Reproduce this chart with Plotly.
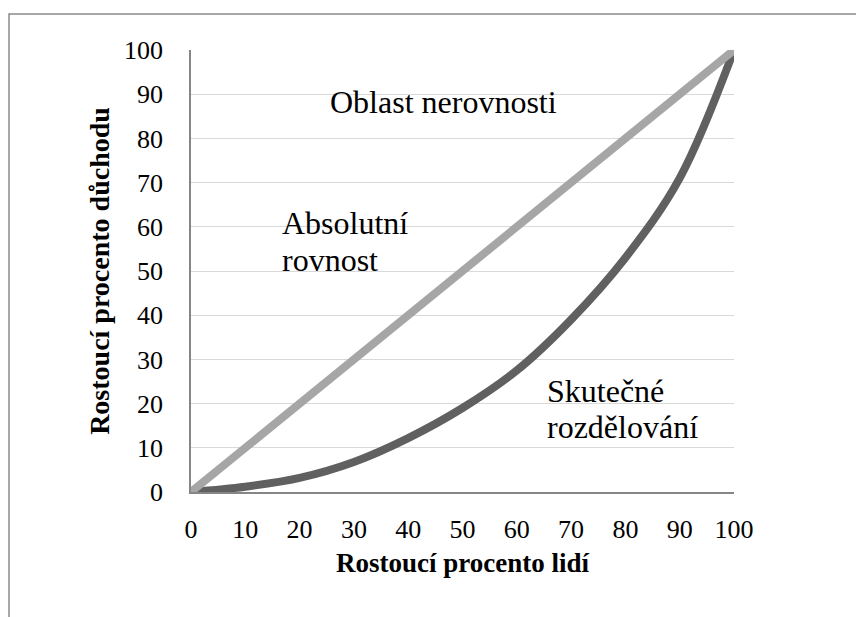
import plotly.graph_objects as go

# data
people_pct = [0, 10, 20, 30, 40, 50, 60, 70, 80, 90, 100]
income_actual = [0, 1.2, 3.2, 6.8, 12.2, 19, 27.5, 39, 53, 71, 100]
equality_x = [0, 100]
equality_y = [0, 100]
tick_vals = [0, 10, 20, 30, 40, 50, 60, 70, 80, 90, 100]
tick_text = [str(v) for v in tick_vals]

x_title = "Rostoucí procento lidí"
y_title = "Rostoucí procento důchodu"

serif = "Liberation Serif, Times New Roman, serif"

fig = go.Figure()
fig.add_trace(go.Scatter(
    x=people_pct, y=income_actual, mode="lines",
    line=dict(color="#606060", width=8, shape="spline", smoothing=1.0),
    cliponaxis=False, showlegend=False, hoverinfo="skip"))
fig.add_trace(go.Scatter(
    x=equality_x, y=equality_y, mode="lines",
    line=dict(color="#a6a6a6", width=8),
    cliponaxis=False, showlegend=False, hoverinfo="skip"))

annots = [
    ("Oblast nerovnosti", 25.2, 88.2),
    ("Absolutní", 16.4, 60.9),
    ("rovnost", 16.4, 52.5),
    ("Skutečné", 65.2, 22.9),
    ("rozdělování", 65.2, 14.7),
]
for txt, ax, ay in annots:
    fig.add_annotation(x=ax, y=ay, text=txt, showarrow=False,
                       xanchor="left", yanchor="middle",
                       font=dict(family=serif, size=32, color="#000000"))

# outer border (cut off at right and bottom)
fig.add_shape(type="rect", xref="paper", yref="paper",
              x0=-182/543, x1=2.0, y0=-2.0, y1=1 + 36/442,
              line=dict(color="#8a8a8a", width=1.5), layer="below")

fig.update_layout(
    width=864, height=617,
    margin=dict(l=183, r=138, t=42, b=133),
    paper_bgcolor="white", plot_bgcolor="white",
    font=dict(family=serif, color="#000000"),
    xaxis=dict(range=[0, 100], tickvals=tick_vals, ticktext=tick_text,
               showgrid=False, zeroline=False, showline=True,
               linecolor="#868686", linewidth=1.5, ticks="",
               tickfont=dict(family=serif, size=26), ticklabelstandoff=13,
               title=dict(text="<b>" + x_title + "</b>", standoff=10,
                          font=dict(family=serif, size=27))),
    yaxis=dict(range=[0, 100], tickvals=tick_vals, ticktext=tick_text,
               showgrid=True, gridcolor="#d9d9d9", gridwidth=1.2,
               zeroline=False, showline=True,
               linecolor="#868686", linewidth=1.5, ticks="",
               tickfont=dict(family=serif, size=26), ticklabelstandoff=21,
               title=dict(text="<b>" + y_title + "</b>", standoff=6,
                          font=dict(family=serif, size=28))),
)

fig.write_html("out.html")
